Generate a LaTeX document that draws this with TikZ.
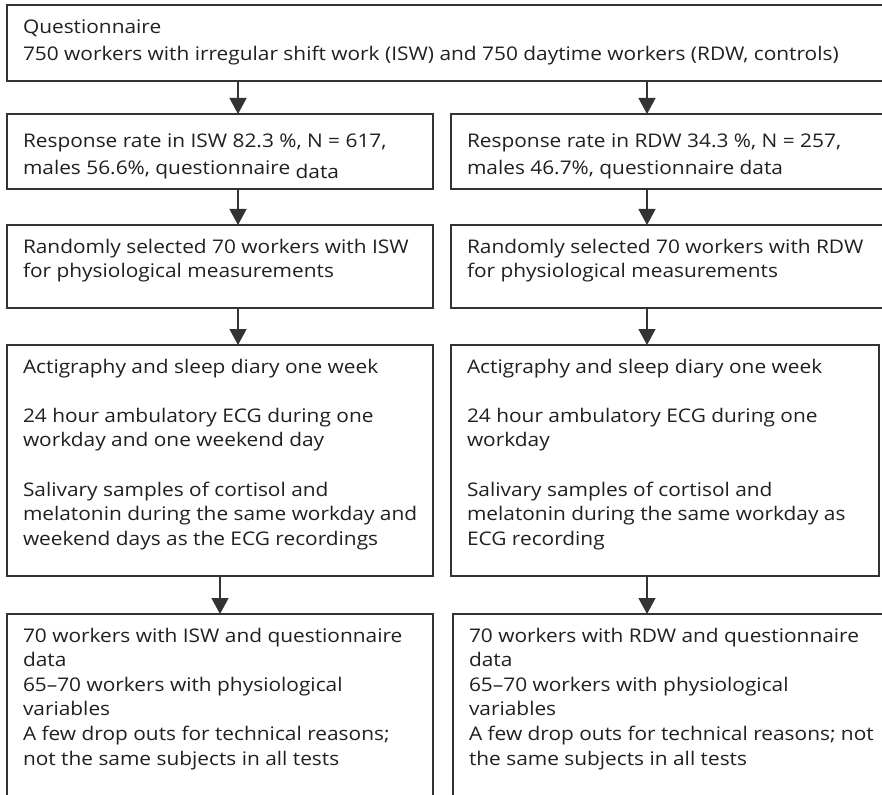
\documentclass[tikz,border=0pt]{standalone}
\usepackage{fontspec}
\setmainfont[FakeStretch=1.11]{Open Sans}
\usetikzlibrary{arrows.meta,calc}
\definecolor{linec}{HTML}{333333}
\definecolor{textc}{HTML}{231F20}
\begin{document}
\begin{tikzpicture}[x=1pt,y=-1pt,
  box/.style={draw=linec,line width=1.3pt,inner sep=0pt,outer sep=0pt,anchor=north west},
  txtA/.style={anchor=base west,inner sep=0pt,outer sep=0pt,text=textc,font=\fontsize{18.8}{27}\selectfont},
  txtB/.style={anchor=base west,inner sep=0pt,outer sep=0pt,text=textc,font=\fontsize{18.8}{24.6}\selectfont},
  arr/.style={draw=linec,line width=1.3pt,-{Triangle[length=16pt,width=17pt]}}]
\useasboundingbox (0,0) rectangle (882,794);
\fill[white] (0,0) rectangle (882,794);
% boxes
\node[box,minimum width=890pt,minimum height=76pt] (top) at (7,5) {};
\node[box,minimum width=426pt,minimum height=75pt] (L2) at (7,114) {};
\node[box,minimum width=440pt,minimum height=75pt] (R2) at (451,114) {};
\node[box,minimum width=426pt,minimum height=83pt] (L3) at (7,225) {};
\node[box,minimum width=440pt,minimum height=83pt] (R3) at (451,225) {};
\node[box,minimum width=426pt,minimum height=231pt] (L4) at (7,345) {};
\node[box,minimum width=428pt,minimum height=231pt] (R4) at (451,345) {};
\node[box,minimum width=426pt,minimum height=200pt] (L5) at (7,614) {};
\node[box,minimum width=440pt,minimum height=200pt] (R5) at (453,614) {};
% texts
\node[txtA] (ttop) at (23,34) {\begin{tabular}[t]{@{}l@{}}Questionnaire\\750 workers with irregular shift work (ISW) and 750 daytime workers (RDW, controls)\end{tabular}};
\node[txtA] (tL2) at (23,148) {\begin{tabular}[t]{@{}l@{}}Response rate in ISW 82.3 \%, N = 617,\\males 56.6\%, questionnaire \raisebox{-4pt}{data}\end{tabular}};
\node[txtA] (tR2) at (467,148) {\begin{tabular}[t]{@{}l@{}}Response rate in RDW 34.3 \%, N = 257,\\males 46.7\%, questionnaire data\end{tabular}};
\node[txtB] (tL3) at (23,253) {\begin{tabular}[t]{@{}l@{}}Randomly selected 70 workers with ISW\\for physiological measurements\end{tabular}};
\node[txtB] (tR3) at (467,253) {\begin{tabular}[t]{@{}l@{}}Randomly selected 70 workers with RDW\\for physiological measurements\end{tabular}};
\node[txtB] (tL4) at (23,373) {\begin{tabular}[t]{@{}l@{}}Actigraphy and sleep diary one week\\ \\24 hour ambulatory ECG during one\\workday and one weekend day\\ \\Salivary samples of cortisol and\\melatonin during the same workday and\\weekend days as the ECG recordings\end{tabular}};
\node[txtB] (tR4) at (467,373) {\begin{tabular}[t]{@{}l@{}}Actigraphy and sleep diary one week\\ \\24 hour ambulatory ECG during one\\workday\\ \\Salivary samples of cortisol and\\melatonin during the same workday as\\ECG recording\end{tabular}};
\node[txtB] (tL5) at (23,642) {\begin{tabular}[t]{@{}l@{}}70 workers with ISW and questionnaire\\data\\65--70 workers with physiological\\variables\\A few drop outs for technical reasons;\\not the same subjects in all tests\end{tabular}};
\node[txtB] (tR5) at (469,642) {\begin{tabular}[t]{@{}l@{}}70 workers with RDW and questionnaire\\data\\65--70 workers with physiological\\variables\\A few drop outs for technical reasons; not\\the same subjects in all tests\end{tabular}};
% arrows
\coordinate (xa) at (238,0);
\coordinate (xb) at (647,0);
\coordinate (xc) at (220,0);
\draw[arr] (top.south -| xa) -- (L2.north -| xa);
\draw[arr] (top.south -| xb) -- (R2.north -| xb);
\draw[arr] (L2.south -| xa) -- (L3.north -| xa);
\draw[arr] (R2.south -| xb) -- (R3.north -| xb);
\draw[arr] (L3.south -| xa) -- (L4.north -| xa);
\draw[arr] (R3.south -| xb) -- (R4.north -| xb);
\draw[arr] (L4.south -| xc) -- (L5.north -| xc);
\draw[arr] (R4.south -| xb) -- (R5.north -| xb);
\end{tikzpicture}
\end{document}
